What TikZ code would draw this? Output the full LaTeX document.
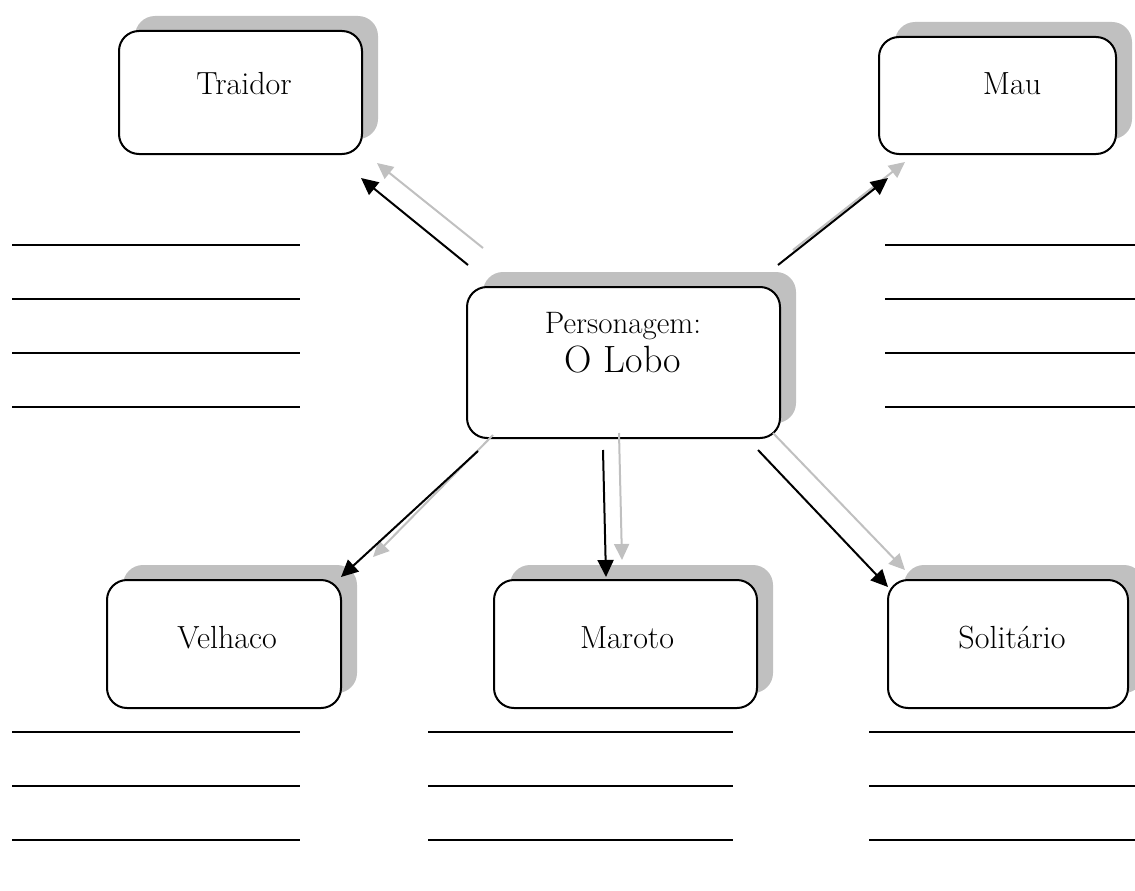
\documentclass[tikz,border=0pt]{standalone}
\usetikzlibrary{arrows.meta,shadows}
\definecolor{shadowgray}{RGB}{192,192,192}
\begin{document}
\begin{tikzpicture}[x=1pt,y=-1pt,
  wordbox/.style={draw=black, line width=2pt, rounded corners=20pt, fill=white,
    general shadow={fill=shadowgray, shadow xshift=16pt, shadow yshift=15pt}},
  wordtext/.style={anchor=base, inner sep=0pt, font=\fontsize{32}{38}\selectfont},
  blackarrow/.style={draw=black, line width=2pt, -{Triangle[length=17pt,width=16pt]}},
  greyarrow/.style={draw=shadowgray, line width=2pt, -{Triangle[length=16pt,width=15pt]}},
  blankline/.style={draw=black, line width=1.8pt}]
\useasboundingbox (0,0) rectangle (1135,891);

% boxes
\node[wordbox, minimum width=243pt, minimum height=123pt] (traidor) at (240.5,92.5) {};
\node[wordbox, minimum width=237pt, minimum height=117pt] (mau) at (997.5,95.5) {};
\node[wordbox, minimum width=313pt, minimum height=151pt] (lobo) at (623.5,362.5) {};
\node[wordbox, minimum width=234pt, minimum height=128pt] (velhaco) at (224,644) {};
\node[wordbox, minimum width=263pt, minimum height=128pt] (maroto) at (625.5,644) {};
\node[wordbox, minimum width=240pt, minimum height=128pt] (solitario) at (1008,644) {};

% labels
\node[wordtext] (traidor-t) at (244,95) {Traidor};
\node[wordtext] (mau-t) at (1012,95) {Mau};
\node[wordtext, font=\fontsize{31}{36}\selectfont] (lobo-t1) at (623,333) {Personagem:};
\node[wordtext, font=\fontsize{38}{44}\selectfont] (lobo-t2) at (623,372) {O Lobo};
\node[wordtext] (velhaco-t) at (227,648) {Velhaco};
\node[wordtext] (maroto-t) at (627,648) {Maroto};
\node[wordtext] (solitario-t) at (1012,648) {Solitário};

% connector end points
\coordinate (gT0) at (483,248); \coordinate (gT1) at (377,163);
\coordinate (bT0) at (468,265); \coordinate (bT1) at (361,178);
\coordinate (gM0) at (793,250); \coordinate (gM1) at (905,162);
\coordinate (bM0) at (778,265); \coordinate (bM1) at (888,178);
\coordinate (gV0) at (493,435); \coordinate (gV1) at (373,557);
\coordinate (bV0) at (478,451); \coordinate (bV1) at (341,577);
\coordinate (gR0) at (619,433); \coordinate (gR1) at (622,560);
\coordinate (bR0) at (603,450); \coordinate (bR1) at (606,577);
\coordinate (gS0) at (773,433); \coordinate (gS1) at (905,570);
\coordinate (bS0) at (758,450); \coordinate (bS1) at (888,587);

% grey arrows underneath
\draw[greyarrow] (gT0) -- (gT1);
\draw[greyarrow] (gM0) -- (gM1);
\draw[greyarrow] (gV0) -- (gV1);
\draw[greyarrow] (gR0) -- (gR1);
\draw[greyarrow] (gS0) -- (gS1);
% black arrows
\draw[blackarrow] (bT0) -- (bT1);
\draw[blackarrow] (bM0) -- (bM1);
\draw[blackarrow] (bV0) -- (bV1);
\draw[blackarrow] (bR0) -- (bR1);
\draw[blackarrow] (bS0) -- (bS1);

% writing lines
\foreach \yy in {245,299,353,407} {
  \draw[blankline] (12,\yy) -- (300,\yy);
  \draw[blankline] (885,\yy) -- (1135,\yy);
}
\foreach \yy in {732,786,840} {
  \draw[blankline] (12,\yy) -- (300,\yy);
  \draw[blankline] (428,\yy) -- (733,\yy);
  \draw[blankline] (869,\yy) -- (1135,\yy);
}
\end{tikzpicture}
\end{document}
